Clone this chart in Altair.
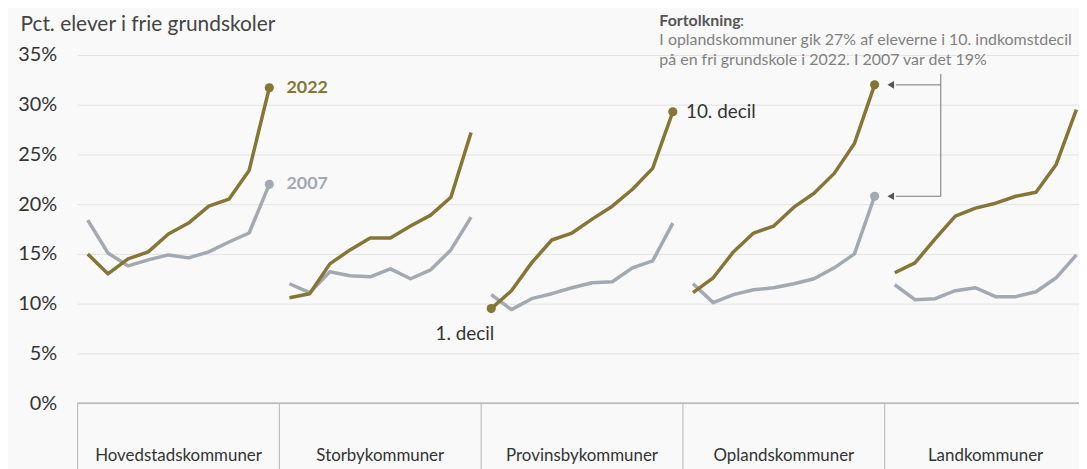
import altair as alt
import pandas as pd

# ---- data ----
groups = ["Hovedstadskommuner", "Storbykommuner", "Provinsbykommuner",
          "Oplandskommuner", "Landkommuner"]
deciles = [1, 2, 3, 4, 5, 6, 7, 8, 9, 10]

v2022 = {
    "Hovedstadskommuner": [15.0, 13.0, 14.5, 15.2, 17.0, 18.1, 19.8, 20.5, 23.4, 31.7],
    "Storbykommuner":     [10.6, 11.0, 14.0, 15.4, 16.6, 16.6, 17.8, 18.9, 20.7, 27.2],
    "Provinsbykommuner":  [9.5, 11.3, 14.1, 16.4, 17.1, 18.5, 19.8, 21.5, 23.6, 29.3],
    "Oplandskommuner":    [11.1, 12.6, 15.2, 17.1, 17.8, 19.7, 21.1, 23.1, 26.1, 32.0],
    "Landkommuner":       [13.1, 14.1, 16.5, 18.8, 19.6, 20.1, 20.8, 21.2, 24.0, 29.5],
}
v2007 = {
    "Hovedstadskommuner": [18.4, 15.1, 13.8, 14.4, 14.9, 14.6, 15.2, 16.2, 17.1, 22.0],
    "Storbykommuner":     [12.0, 11.1, 13.2, 12.8, 12.7, 13.5, 12.5, 13.4, 15.4, 18.7],
    "Provinsbykommuner":  [10.9, 9.4, 10.5, 11.0, 11.6, 12.1, 12.2, 13.6, 14.3, 18.1],
    "Oplandskommuner":    [12.0, 10.1, 10.9, 11.4, 11.6, 12.0, 12.5, 13.6, 15.0, 20.8],
    "Landkommuner":       [11.9, 10.4, 10.5, 11.3, 11.6, 10.7, 10.7, 11.2, 12.6, 14.9],
}
y_ticks = [0, 5, 10, 15, 20, 25, 30, 35]

# endpoints marked with a dot: (group, year, decile)
dots = [("Hovedstadskommuner", "2022", 10), ("Hovedstadskommuner", "2007", 10),
        ("Provinsbykommuner", "2022", 1), ("Provinsbykommuner", "2022", 10),
        ("Oplandskommuner", "2022", 10), ("Oplandskommuner", "2007", 10)]

OLIVE = "#857635"
GREY = "#a2a9b0"
FONT = "Lato"

rows = []
for gi, g in enumerate(groups):
    for year, src in (("2007", v2007), ("2022", v2022)):
        for d, v in zip(deciles, src[g]):
            rows.append({"group": g, "year": year, "decile": d,
                         "xpos": gi * 10 + d - 0.5, "value": v})
df = pd.DataFrame(rows)
dot_df = pd.DataFrame([r for r in rows if (r["group"], r["year"], r["decile"]) in dots])

xscale = alt.Scale(domain=[0, 49.63], nice=False, zero=False)
yscale = alt.Scale(domain=[0, 35], nice=False)
cscale = alt.Scale(domain=["2007", "2022"], range=[GREY, OLIVE])

yaxis = alt.Axis(values=y_ticks, labelExpr="datum.value + '%'",
                 grid=True, gridColor="#e3e3e3", gridWidth=1,
                 domain=False, ticks=False, labelFontSize=20,
                 labelFont=FONT, labelColor="#333", labelPadding=21,
                 title="Pct. elever i frie grundskoler", titleAngle=0,
                 titleX=-58, titleY=-25, titleAlign="left",
                 titleBaseline="alphabetic", titleFontSize=21,
                 titleFont=FONT, titleFontWeight="normal",
                 titleColor="#444")

X = alt.X("xpos:Q", scale=xscale, axis=None)
Y = alt.Y("value:Q", scale=yscale, axis=yaxis)

lines = alt.Chart(df).mark_line(strokeWidth=3.5, strokeJoin="round").encode(
    x=X, y=Y,
    color=alt.Color("year:N", scale=cscale, legend=None),
    detail="group:N",
)

points = alt.Chart(dot_df).mark_circle(size=85, opacity=1).encode(
    x=X, y=Y, color=alt.Color("year:N", scale=cscale, legend=None))

# zero baseline
zero = alt.Chart(pd.DataFrame({"value": [0]})).mark_rule(
    color="#9a9a9a", strokeWidth=1).encode(y=Y)

# group separators and labels below the axis
sep_df = pd.DataFrame({"xpos": [gi * 10 for gi in range(len(groups))]})
seps = alt.Chart(sep_df).mark_rule(color="#b5b5b5", strokeWidth=1).encode(
    x=X, y=alt.value(350), y2=alt.value(420))

lab_df = pd.DataFrame({"xpos": [gi * 10 + 5 for gi in range(len(groups))],
                       "label": groups})
glabels = alt.Chart(lab_df).mark_text(
    font=FONT, fontSize=17, color="#333", baseline="middle").encode(
    x=X, y=alt.value(403), text="label:N")

# series / decile labels
ann_df = pd.DataFrame({
    "xpos": [10.35, 10.35, 30.15, 20.65],
    "value": [31.7, 22.0, 29.3, 6.9],
    "text": ["2022", "2007", "10. decil", "1. decil"],
    "kind": ["y2022", "y2007", "dec", "dec1"],
})
lab2022 = alt.Chart(ann_df[ann_df.kind == "y2022"]).mark_text(
    font=FONT, fontSize=18, fontWeight="bold", color=OLIVE, align="left",
    baseline="middle").encode(x=X, y=Y, text="text:N")
lab2007 = alt.Chart(ann_df[ann_df.kind == "y2007"]).mark_text(
    font=FONT, fontSize=18, fontWeight="bold", color=GREY, align="left",
    baseline="middle").encode(x=X, y=Y, text="text:N")
labdec = alt.Chart(ann_df[ann_df.kind == "dec"]).mark_text(
    font=FONT, fontSize=19, color="#333", align="left",
    baseline="middle").encode(x=X, y=Y, text="text:N")
labdec1 = alt.Chart(ann_df[ann_df.kind == "dec1"]).mark_text(
    font=FONT, fontSize=19, color="#333", align="right",
    baseline="middle").encode(x=X, y=Y, text="text:N")

# interpretation arrows (pointing at Oplandskommuner, 10. decil)
seg_df = pd.DataFrame({
    "xpos": [42.78, 40.55, 40.55],
    "xpos2": [42.78, 42.78, 42.78],
    "value": [33.1, 32.0, 20.8],
    "value2": [20.8, 32.0, 20.8],
})
segs = alt.Chart(seg_df).mark_rule(color="#777", strokeWidth=1).encode(
    x=X, x2="xpos2:Q", y=Y, y2="value2:Q")
head_df = pd.DataFrame({"xpos": [40.3, 40.3], "value": [32.0, 20.8]})
heads = alt.Chart(head_df).mark_point(
    shape="triangle-left", filled=True, size=60, color="#555", opacity=1).encode(x=X, y=Y)

# interpretation text
note_title = alt.Chart(pd.DataFrame({"t": ["Fortolkning"]})).mark_text(
    font=FONT, fontSize=16, fontWeight="bold", color="#555", align="left",
    baseline="alphabetic").encode(x=alt.value(585), y=alt.value(-29), text="t:N")
note_colon = alt.Chart(pd.DataFrame({"t": [":"]})).mark_text(
    font=FONT, fontSize=16, color="#555", align="left",
    baseline="alphabetic").encode(x=alt.value(666), y=alt.value(-29), text="t:N")
note_lines = alt.Chart(pd.DataFrame({
    "t": ["I oplandskommuner gik 27% af eleverne i 10. indkomstdecil\n"
          "på en fri grundskole i 2022. I 2007 var det 19%"]})).mark_text(
    font=FONT, fontSize=16, color="#808080", align="left",
    baseline="top", lineBreak="\n", lineHeight=20).encode(
    x=alt.value(585), y=alt.value(-23), text="t:N")

chart = alt.layer(
    lines, zero, seps, glabels, points, lab2022, lab2007, labdec, labdec1,
    segs, heads, note_title, note_colon, note_lines,
).properties(
    width=1007, height=350,
    padding={"left": 70, "top": 46, "right": 0, "bottom": 65},
    autosize=alt.AutoSizeParams(type="none"),
    background="#f9f9f9",
).configure_view(stroke=None)

chart.save("out.html", embed_options={"renderer": "svg", "actions": False})
